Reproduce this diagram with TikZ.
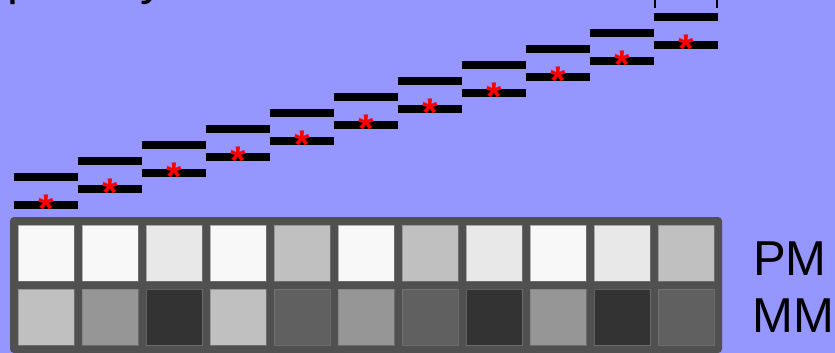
\documentclass[tikz,border=0pt]{standalone}
\usepackage{fontspec}
\setmainfont{Liberation Sans}
\definecolor{bg}{RGB}{150,150,255}
\definecolor{panel}{RGB}{80,80,80}
\begin{document}
\begin{tikzpicture}[x=1pt,y=-1pt,
  bar/.style={rectangle,fill=black,inner sep=0pt,minimum width=64pt,minimum height=8pt},
  cell/.style={rectangle,inner sep=0pt,minimum size=56pt,draw=gray,draw opacity=0.6,line width=0.8pt},
  redstar/.style={text=red,font=\fontsize{40}{40}\selectfont\bfseries,inner sep=0pt,anchor=base},
  lbl/.style={font=\fontsize{49}{49}\selectfont,anchor=base west,inner sep=0pt}]
\useasboundingbox (0,0) rectangle (835,353);
\fill[bg] (0,0) rectangle (835,353);
\clip (0,0) rectangle (835,353);
\node[lbl] (title) at (6.8,-5.3) {penalty};
\coordinate (bla) at (655,-2);
\coordinate (blb) at (655,8);
\coordinate (bra) at (717,-2);
\coordinate (brb) at (717,8);
\draw[line width=1.5pt] (bla) -- (blb) (bra) -- (brb);
\foreach \i in {0,...,10}{
  \node[bar] (up\i) at ({46+64*\i},{177-16*\i}) {};
  \node[bar] (lo\i) at ({46+64*\i},{205-16*\i}) {};
  \node[redstar] (st\i) at ({46+64*\i},{222.5-16*\i}) {*};
}
\node[fill=panel,rounded corners=4pt,minimum width=712pt,minimum height=136pt,inner sep=0pt] (panel) at (366,285) {};
\foreach \i/\p/\m in {0/F8F8F8/C0C0C0,1/F8F8F8/969696,2/E8E8E8/333333,3/F8F8F8/C0C0C0,4/C0C0C0/606060,5/F8F8F8/969696,6/C0C0C0/606060,7/E8E8E8/333333,8/F8F8F8/969696,9/E8E8E8/333333,10/C0C0C0/606060}{
  \definecolor{pmc}{HTML}{\p}
  \definecolor{mmc}{HTML}{\m}
  \node[cell,fill=pmc] (pm\i) at ({46+64*\i},253) {};
  \node[cell,fill=mmc] (mm\i) at ({46+64*\i},317) {};
}
\node[lbl] (pmlbl) at (753,275) {PM};
\node[lbl] (mmlbl) at (752,332) {MM};
\end{tikzpicture}
\end{document}
